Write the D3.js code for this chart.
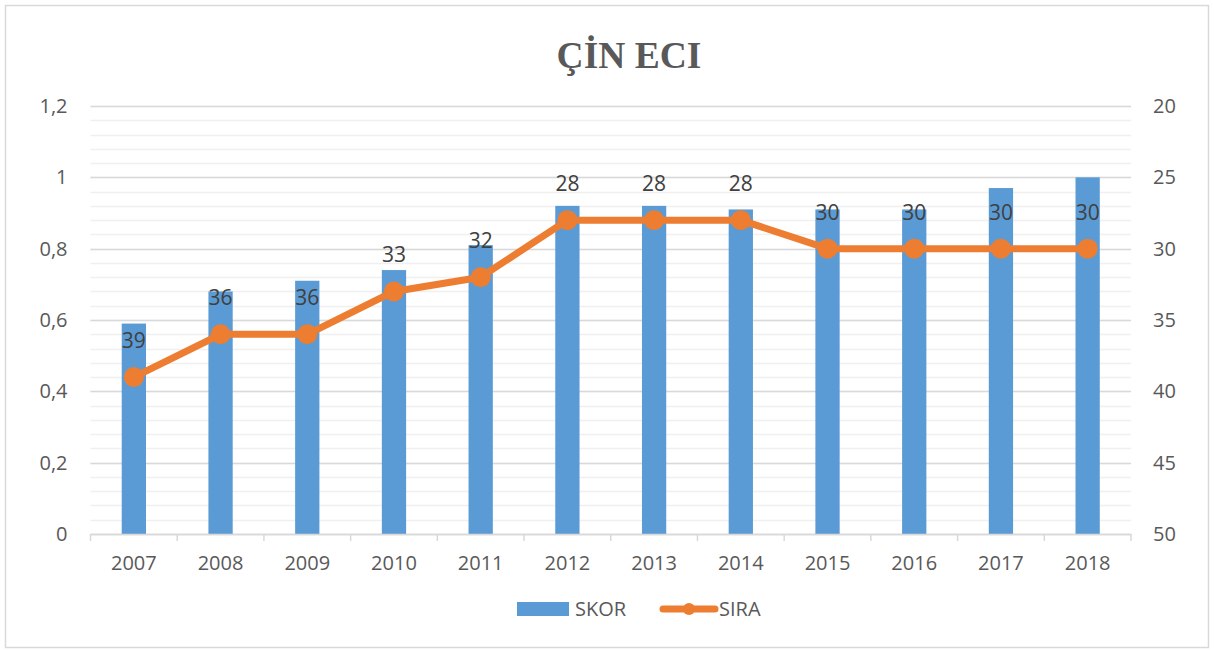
<!DOCTYPE html>
<html><head><meta charset="utf-8">
<script src="https://cdn.jsdelivr.net/npm/d3@7/dist/d3.min.js"></script>
<style>body{margin:0;background:#fff}svg{display:block}</style>
</head><body><svg id="c" width="1214" height="650"></svg>
<script>
const years = ["2007","2008","2009","2010","2011","2012","2013","2014","2015","2016","2017","2018"];
const skor = [0.59,0.68,0.71,0.74,0.81,0.92,0.92,0.91,0.91,0.91,0.97,1.0];
const sira = [39,36,36,33,32,28,28,28,30,30,30,30];
const leftTicks = [0,0.2,0.4,0.6,0.8,1,1.2];
const rightTicks = [20,25,30,35,40,45,50];
const title = "ÇİN ECI";

const svg = d3.select("#c");
const L = 90.5, R = 1131, T = 106, B = 534;
const font = "'Open Sans', 'Liberation Sans', sans-serif";
const fs = 20;

svg.append("rect").attr("x",5.5).attr("y",5.5).attr("width",1203).attr("height",642)
  .attr("fill","#fff").attr("stroke","#d9d9d9").attr("stroke-width",1.5);

const x = d3.scaleBand().domain(years).range([L,R]).paddingInner(0.72).paddingOuter(0.36);
const xb = d3.scaleBand().domain(years).range([L,R]);
const yL = d3.scaleLinear().domain([0,1.2]).range([B,T]);
const yR = d3.scaleLinear().domain([20,50]).range([T,B]);

// minor gridlines
const minor = d3.range(0,1.2001,0.04);
svg.append("g").selectAll("line").data(minor).join("line")
  .attr("x1",L).attr("x2",R).attr("y1",d=>Math.round(yL(d))+0.5).attr("y2",d=>Math.round(yL(d))+0.5)
  .attr("stroke","#f0f0f0").attr("stroke-width",1.5);
svg.append("g").selectAll("line").data(leftTicks).join("line")
  .attr("x1",L).attr("x2",R).attr("y1",d=>Math.round(yL(d))+0.5).attr("y2",d=>Math.round(yL(d))+0.5)
  .attr("stroke","#d9d9d9").attr("stroke-width",1.5);

// bars
svg.append("g").selectAll("rect").data(skor).join("rect")
  .attr("x",(d,i)=>x(years[i])).attr("width",x.bandwidth())
  .attr("y",d=>yL(d)).attr("height",d=>B-yL(d)).attr("fill","#5b9bd5");

// x axis
const gx = svg.append("g").attr("transform",`translate(0,${B})`)
  .call(d3.axisBottom(xb).tickSize(0).tickPadding(22));
gx.select(".domain").attr("stroke","#d9d9d9").attr("stroke-width",1.5);
gx.selectAll("text").attr("font-family",font).attr("font-size",fs).attr("fill","#595959");
const bounds = years.map(y=>xb(y)).concat([R]);
svg.append("g").selectAll("line").data(bounds).join("line")
  .attr("x1",d=>d).attr("x2",d=>d).attr("y1",B).attr("y2",B+7)
  .attr("stroke","#d9d9d9").attr("stroke-width",1.5);

// left axis
const gl = svg.append("g").attr("transform",`translate(${L},0)`)
  .call(d3.axisLeft(yL).tickValues(leftTicks).tickSize(0).tickPadding(23)
    .tickFormat(d=>String(d).replace(".",",")));
gl.select(".domain").remove();
gl.selectAll("text").attr("font-family",font).attr("font-size",fs).attr("fill","#595959");

// right axis
const gr = svg.append("g").attr("transform",`translate(${R},0)`)
  .call(d3.axisRight(yR).tickValues(rightTicks).tickSize(0).tickPadding(22));
gr.select(".domain").remove();
gr.selectAll("text").attr("font-family",font).attr("font-size",fs).attr("fill","#595959");

// line
const cx = i=>xb(years[i])+xb.bandwidth()/2;
const line = d3.line().x((d,i)=>cx(i)).y(d=>yR(d));
svg.append("path").datum(sira).attr("d",line).attr("fill","none")
  .attr("stroke","#ed7d31").attr("stroke-width",7).attr("stroke-linejoin","round");
svg.append("g").selectAll("circle").data(sira).join("circle")
  .attr("cx",(d,i)=>cx(i)).attr("cy",d=>yR(d)).attr("r",10).attr("fill","#ed7d31");

// labels
svg.append("g").selectAll("text").data(sira).join("text")
  .attr("x",(d,i)=>cx(i)).attr("y",d=>yR(d)-29).attr("text-anchor","middle")
  .attr("font-family",font).attr("font-size",21).attr("fill","#404040").text(d=>d);

// title
svg.append("text").attr("x",629).attr("y",68).attr("text-anchor","middle")
  .attr("font-family","'Liberation Serif','DejaVu Serif',serif").attr("font-weight","bold")
  .attr("font-size",37.5).attr("fill","#595959").text(title);

// legend
const lg = svg.append("g");
lg.append("rect").attr("x",517).attr("y",602).attr("width",52).attr("height",14).attr("fill","#5b9bd5");
lg.append("text").attr("x",575).attr("y",616).attr("font-family",font).attr("font-size",fs).attr("fill","#595959").text("SKOR");
lg.append("line").attr("x1",663).attr("x2",715).attr("y1",609).attr("y2",609)
  .attr("stroke","#ed7d31").attr("stroke-width",7).attr("stroke-linecap","round");
lg.append("circle").attr("cx",689).attr("cy",609).attr("r",6).attr("fill","#ed7d31");
lg.append("text").attr("x",719).attr("y",616).attr("font-family",font).attr("font-size",fs).attr("fill","#595959").text("SIRA");
</script></body></html>
